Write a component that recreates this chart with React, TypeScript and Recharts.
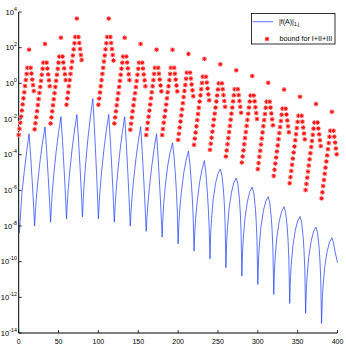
import { ComposedChart, Line, Scatter, XAxis, YAxis } from "recharts";

// axis ticks
const xTicks = [0, 50, 100, 150, 200, 250, 300, 350, 400];
const yTickExps = [-14, -12, -10, -8, -6, -4, -2, 0, 2, 4];

// |f(A)|_{1,j}: sampled points of each arch (x = j, value = log10)
const normX = [
  1, 2, 3, 4, 7, 10, 13, 15, 17, 18, 19,
  20, 21, 22, 24, 27, 30, 33, 35, 37, 38, 39,
  40, 41, 42, 44, 47, 50, 53, 55, 57, 58, 59,
  60, 61, 62, 64, 67, 70, 73, 75, 77, 78, 79,
  80, 81, 82, 84, 87, 90, 93, 95, 97, 98, 99,
  100, 101, 102, 104, 107, 110, 113, 115, 117, 118, 119,
  120, 121, 122, 124, 127, 130, 133, 135, 137, 138, 139,
  140, 141, 142, 144, 147, 150, 153, 155, 157, 158, 159,
  160, 161, 162, 164, 167, 170, 173, 175, 177, 178, 179,
  180, 181, 182, 184, 187, 190, 193, 195, 197, 198, 199,
  200, 201, 202, 204, 207, 210, 213, 215, 217, 218, 219,
  220, 221, 222, 224, 227, 230, 233, 235, 237, 238, 239,
  240, 241, 242, 244, 247, 250, 253, 255, 257, 258, 259,
  260, 261, 262, 264, 267, 270, 273, 275, 277, 278, 279,
  280, 281, 282, 284, 287, 290, 293, 295, 297, 298, 299,
  300, 301, 302, 304, 307, 310, 313, 315, 317, 318, 319,
  320, 321, 322, 324, 327, 330, 333, 335, 337, 338, 339,
  340, 341, 342, 344, 347, 350, 353, 355, 357, 358, 359,
  360, 361, 362, 364, 367, 370, 373, 375, 377, 378, 379,
  380, 381, 382, 384, 387, 390, 393, 395, 397, 399, 400,
];
const normExp = [
  -8.38, -7.55, -6.88, -6.16, -4.94, -3.83, -2.83, -4.07, -5.52, -6.29, -7.12,
  -8.0, -7.17, -6.5, -5.5, -4.28, -3.28, -2.45, -3.73, -5.22, -6.02, -6.87,
  -7.78, -6.89, -6.18, -5.12, -3.82, -2.76, -1.87, -3.25, -4.85, -5.71, -6.63,
  -7.6, -6.72, -6.02, -4.97, -3.68, -2.63, -1.75, -3.13, -4.73, -5.6, -6.51,
  -7.49, -6.49, -5.7, -4.5, -3.04, -1.85, -0.85, -2.47, -4.36, -5.37, -6.45,
  -7.6, -6.72, -6.02, -4.97, -3.68, -2.63, -1.75, -3.2, -4.89, -5.79, -6.75,
  -7.78, -6.89, -6.18, -5.12, -3.82, -2.76, -1.87, -3.34, -5.06, -5.98, -6.96,
  -8.0, -7.16, -6.5, -5.49, -4.27, -3.27, -2.43, -3.84, -5.48, -6.36, -7.3,
  -8.3, -7.48, -6.82, -5.84, -4.64, -3.65, -2.83, -4.22, -5.84, -6.71, -7.64,
  -8.62, -7.46, -6.72, -5.72, -4.61, -3.87, -3.34, -4.13, -5.38, -6.17, -7.19,
  -9.0, -7.86, -7.13, -6.14, -5.05, -4.32, -3.8, -4.59, -5.82, -6.6, -7.61,
  -9.41, -8.29, -7.58, -6.62, -5.55, -4.84, -4.33, -5.1, -6.31, -7.08, -8.08,
  -9.84, -8.33, -7.58, -6.52, -5.61, -5.06, -4.81, -5.14, -6.03, -6.75, -7.85,
  -10.34, -8.83, -8.08, -7.02, -6.11, -5.56, -5.31, -5.64, -6.52, -7.23, -8.33,
  -10.81, -9.31, -8.56, -7.52, -6.62, -6.07, -5.82, -6.15, -7.02, -7.73, -8.82,
  -11.28, -9.8, -9.07, -8.03, -7.15, -6.61, -6.36, -6.69, -7.57, -8.28, -9.37,
  -11.84, -10.36, -9.63, -8.59, -7.71, -7.17, -6.92, -7.25, -8.11, -8.82, -9.9,
  -12.34, -10.88, -10.15, -9.13, -8.25, -7.71, -7.47, -7.8, -8.66, -9.37, -10.46,
  -12.9, -11.45, -10.72, -9.71, -8.83, -8.3, -8.06, -8.38, -9.25, -9.95, -11.03,
  -13.46, -12.02, -11.3, -10.29, -9.43, -8.9, -8.66, -8.95, -9.45, -9.85, -10.06,
];

// bound for I+II+III at j = 0..399 (log10), one row per block of 20
const boundExp: (number | null)[] = [
  -2.89, -2.55, -2.21, -1.86, -1.52, -1.18, -0.84, -0.5, -0.15, 0.19, 0.53, 0.87, null, 1.89, null, 0.87, 0.55, 0.21, -0.1, -0.43,
  -2.58, -2.24, -1.9, -1.56, -1.22, -0.88, -0.54, -0.2, 0.14, 0.48, 0.82, 1.16, null, 2.21, null, 1.16, 0.83, 0.5, 0.17, -0.16,
  -2.25, -1.91, -1.57, -1.23, -0.89, -0.55, -0.2, 0.14, 0.48, 0.82, 1.16, 1.5, null, 2.56, null, 1.5, 1.17, 0.84, 0.51, 0.18,
  -1.2, -0.85, -0.51, -0.16, 0.18, 0.53, 0.87, 1.22, 1.56, 1.91, 2.25, 2.6, null, 3.63, null, 2.6, 2.26, 1.92, 1.59, 1.31,
  null, null, null, null, null, null, null, null, null, null, null, null, null, null, null, null, null, null, null, null,
  -1.2, -0.85, -0.51, -0.16, 0.18, 0.53, 0.87, 1.22, 1.56, 1.91, 2.25, 2.6, null, 3.63, null, 2.6, 2.26, 1.92, 1.59, 1.28,
  -2.25, -1.91, -1.57, -1.23, -0.89, -0.55, -0.2, 0.14, 0.48, 0.82, 1.16, 1.5, null, 2.56, null, 1.5, 1.17, 0.84, 0.51, 0.18,
  -2.6, -2.26, -1.92, -1.57, -1.23, -0.89, -0.55, -0.21, 0.13, 0.48, 0.82, 1.16, null, 2.21, null, 1.16, 0.83, 0.5, 0.17, -0.16,
  -2.9, -2.56, -2.21, -1.87, -1.53, -1.19, -0.84, -0.5, -0.16, 0.18, 0.53, 0.87, null, 1.89, null, 0.87, 0.54, 0.21, -0.12, -0.45,
  -2.9, -2.56, -2.21, -1.87, -1.53, -1.19, -0.84, -0.5, -0.16, 0.18, 0.53, 0.87, null, 1.88, null, 0.87, 0.54, 0.21, -0.12, -0.45,
  -3.17, -2.83, -2.48, -2.14, -1.8, -1.46, -1.11, -0.77, -0.43, -0.09, 0.26, 0.6, null, 1.65, null, 0.6, 0.27, -0.06, -0.39, -0.72,
  -3.45, -3.1, -2.76, -2.41, -2.06, -1.72, -1.37, -1.02, -0.67, -0.33, 0.02, 0.37, null, 1.37, null, 0.37, 0.04, -0.29, -0.62, -0.95,
  -3.73, -3.39, -3.05, -2.71, -2.37, -2.03, -1.7, -1.36, -1.02, -0.68, -0.34, 0.0, null, 1.07, null, 0.0, -0.33, -0.66, -0.99, -1.32,
  -4.1, -3.76, -3.41, -3.07, -2.73, -2.39, -2.04, -1.7, -1.36, -1.01, -0.67, -0.33, null, 0.73, null, -0.33, -0.66, -0.99, -1.32, -1.65,
  -4.44, -4.1, -3.76, -3.41, -3.07, -2.73, -2.39, -2.05, -1.7, -1.36, -1.02, -0.68, null, 0.41, null, -0.68, -1.01, -1.34, -1.67, -2.0,
  -4.81, -4.47, -4.12, -3.78, -3.43, -3.09, -2.75, -2.4, -2.06, -1.72, -1.37, -1.03, null, 0.03, null, -1.03, -1.36, -1.69, -2.02, -2.35,
  -5.19, -4.85, -4.5, -4.16, -3.82, -3.48, -3.13, -2.79, -2.45, -2.11, -1.76, -1.42, null, -0.35, null, -1.42, -1.75, -2.08, -2.41, -2.74,
  -5.6, -5.26, -4.91, -4.57, -4.22, -3.88, -3.54, -3.19, -2.85, -2.51, -2.16, -1.82, null, -0.75, null, -1.82, -2.15, -2.48, -2.81, -3.14,
  -5.98, -5.64, -5.29, -4.95, -4.61, -4.26, -3.92, -3.57, -3.23, -2.89, -2.54, -2.2, null, -1.16, null, -2.2, -2.53, -2.86, -3.19, -3.52,
  -6.45, -6.11, -5.76, -5.42, -5.07, -4.73, -4.38, -4.04, -3.69, -3.35, -3.0, -2.66, null, -1.6, null, -2.66, -2.99, -3.32, -3.65, -3.98,
];

const BLUE = "#2b45ff";
const RED = "#ff0000";
const FONT = "'Liberation Sans', Arial, Helvetica, sans-serif";

const yTicks = yTickExps.map((e) => 10 ** e);
const normData = normX.map((x, i) => ({ x, y: 10 ** normExp[i] }));
const boundData = boundExp.flatMap((e, j) => (e === null ? [] : [{ x: j, y: 10 ** e }]));

function Star({ cx, cy }: { cx: number; cy: number }) {
  const r = 2;
  const d = 1.45;
  return (
    <g>
      <circle cx={cx} cy={cy} r={2.5} fill="#ffbcbc" />
      <path
        d={`M${cx - r},${cy}H${cx + r}M${cx},${cy - r}V${cy + r}M${cx - d},${cy - d}L${cx + d},${cy + d}M${cx - d},${cy + d}L${cx + d},${cy - d}`}
        stroke={RED}
        strokeWidth={0.9}
      />
    </g>
  );
}

function BottomTick({ x, y, payload }: any) {
  return (
    <g>
      <line x1={x} x2={x} y1={y} y2={y - 3} stroke="#000" strokeWidth={0.8} />
      <text x={x} y={y + 10.7} textAnchor="middle" fontSize={7} fontFamily={FONT} fill="#000">
        {payload.value}
      </text>
    </g>
  );
}

function TopTick({ x, y }: any) {
  return <line x1={x} x2={x} y1={y} y2={y + 3} stroke="#000" strokeWidth={0.8} />;
}

function LeftTick({ x, y, payload }: any) {
  const exp = Math.round(Math.log10(payload.value));
  return (
    <g>
      <line x1={x} x2={x + 3} y1={y} y2={y} stroke="#000" strokeWidth={0.8} />
      <text x={x - 1.8} y={y + 2.8} textAnchor="end" fontSize={7.6} fontFamily={FONT} fill="#000">
        10
        <tspan fontSize={5.3} dy={-4}>
          {exp}
        </tspan>
      </text>
    </g>
  );
}

function RightTick({ x, y }: any) {
  return <line x1={x} x2={x - 3} y1={y} y2={y} stroke="#000" strokeWidth={0.8} />;
}

export default function App() {
  return (
    <div style={{ position: "absolute", left: 0, top: 0, width: 346, height: 346, background: "#fff" }}>
      <ComposedChart width={346} height={346} margin={{ top: 12, right: 8.5, bottom: 0, left: 0 }}>
        <XAxis
          dataKey="x"
          type="number"
          domain={[0, 400]}
          ticks={xTicks}
          interval={0}
          height={13}
          tickSize={0}
          tickMargin={0}
          tickLine={false}
          tick={<BottomTick />}
          axisLine={{ stroke: "#000", strokeWidth: 1 }}
        />
        <XAxis
          xAxisId="top"
          orientation="top"
          dataKey="x"
          type="number"
          domain={[0, 400]}
          ticks={xTicks}
          interval={0}
          height={0}
          tickSize={0}
          tickMargin={0}
          tickLine={false}
          tick={<TopTick />}
          axisLine={{ stroke: "#000", strokeWidth: 1 }}
        />
        <YAxis
          type="number"
          scale="log"
          domain={[1e-14, 1e4]}
          ticks={yTicks}
          interval={0}
          width={18.7}
          tickSize={0}
          tickMargin={0}
          tickLine={false}
          tick={<LeftTick />}
          axisLine={{ stroke: "#000", strokeWidth: 1 }}
        />
        <YAxis
          yAxisId="right"
          orientation="right"
          type="number"
          scale="log"
          domain={[1e-14, 1e4]}
          ticks={yTicks}
          interval={0}
          width={0}
          tickSize={0}
          tickMargin={0}
          tickLine={false}
          tick={<RightTick />}
          axisLine={{ stroke: "#000", strokeWidth: 1 }}
        />
        <Line
          data={normData}
          dataKey="y"
          type="linear"
          stroke={BLUE}
          strokeWidth={0.75}
          dot={false}
          activeDot={false}
          isAnimationActive={false}
        />
        <Scatter
          data={boundData}
          dataKey="y"
          shape={(p: any) => <Star cx={p.cx} cy={p.cy} />}
          isAnimationActive={false}
        />
      </ComposedChart>
      <svg width={85} height={32} style={{ position: "absolute", left: 251, top: 13 }}>
        <rect x={0.5} y={0.5} width={83.5} height={30.5} fill="#fff" stroke="#000" strokeWidth={0.8} />
        <line x1={1.5} x2={22} y1={8.7} y2={8.7} stroke={BLUE} strokeWidth={0.75} />
        <text x={28} y={11.2} fontSize={7} fontFamily={FONT} fill="#000">
          |f(A)|
          <tspan fontSize={5} dy={2.2}>
            1,j
          </tspan>
        </text>
        <Star cx={16} cy={26} />
        <text x={28.5} y={28.4} fontSize={7.2} fontFamily={FONT} fill="#000">
          bound for I+II+III
        </text>
      </svg>
    </div>
  );
}
